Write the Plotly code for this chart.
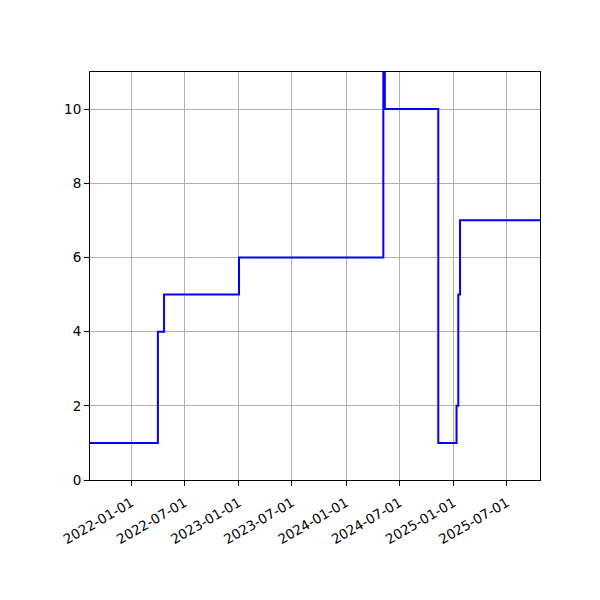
import plotly.graph_objects as go

# step changes (value holds until the next date)
dates = ["2021-08-13", "2022-04-01", "2022-04-22", "2023-01-02", "2024-05-07",
         "2024-05-12", "2024-11-10", "2025-01-11", "2025-01-17", "2025-01-23",
         "2025-10-22"]
values = [1, 4, 5, 6, 15, 10, 1, 2, 5, 7, 7]

y_ticks = [0, 2, 4, 6, 8, 10]

fig = go.Figure()
fig.add_trace(go.Scatter(
    x=dates, y=values,
    mode="lines",
    line=dict(color="#0000ff", width=2, shape="hv"),
    showlegend=False,
))

axis_style = dict(
    showline=True, linecolor="black", linewidth=1, mirror=True,
    ticks="outside", ticklen=5, tickcolor="black", tickwidth=1,
    showgrid=True, gridcolor="#b0b0b0", gridwidth=1,
    zeroline=False,
    tickfont=dict(family="DejaVu Sans", size=13.5, color="black"),
)

fig.update_xaxes(
    range=[dates[0], dates[-1]],
    tick0="2022-01-01", dtick="M6", tickformat="%Y-%m-%d",
    tickangle=-30, ticklabelstandoff=4,
    **axis_style,
)
fig.update_yaxes(range=[0, 11], tickvals=y_ticks, **axis_style)

fig.update_layout(
    width=600, height=600,
    margin=dict(l=82, r=68, t=64, b=128),
    plot_bgcolor="white", paper_bgcolor="white",
    font=dict(family="DejaVu Sans"),
)

fig.write_html("out.html")
